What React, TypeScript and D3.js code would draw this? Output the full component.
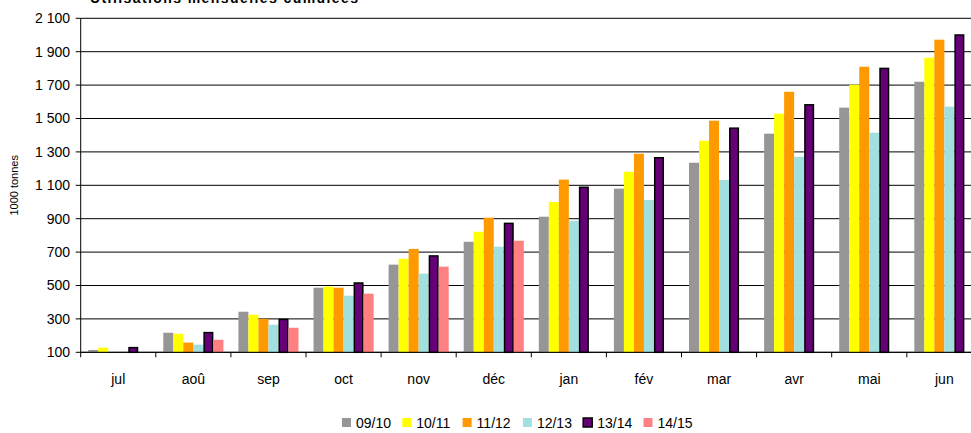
import React from "react";
import { scaleBand, scaleLinear, range } from "d3";

const months = ["jul", "aoû", "sep", "oct", "nov", "déc", "jan", "fév", "mar", "avr", "mai", "jun"];
const seasons = ["09/10", "10/11", "11/12", "12/13", "13/14", "14/15"];
const colors = ["#969696", "#ffff00", "#ff9900", "#a2e0e0", "#660077", "#ff8080"];

// cumulated monthly values, 1000 tonnes (null = no data)
const s0910 = [114, 217, 343, 487, 625, 762, 912, 1080, 1235, 1409, 1565, 1720];
const s1011 = [128, 211, 325, 493, 660, 822, 1000, 1181, 1367, 1529, 1702, 1864];
const s1112 = [null, 158, 300, 487, 719, 906, 1134, 1289, 1487, 1660, 1810, 1972];
const s1213 = [null, 146, 265, 439, 571, 732, 888, 1012, 1132, 1271, 1415, 1571];
const s1314 = [128, 218, 297, 515, 677, 872, 1088, 1265, 1442, 1582, 1800, 2000];
const s1415 = [null, 175, 247, 451, 613, 768, null, null, null, null, null, null];
const series = [s0910, s1011, s1112, s1213, s1314, s1415];

const yTicks = range(100, 2101, 200);

const W = 971;
const H = 433;
const left = 80.7;
const band = 75.1;
const top = 18.3;
const bottom = 352.3;
const font = "'Liberation Sans', Arial, sans-serif";

const fmt = (v: number) => (v >= 1000 ? `${Math.floor(v / 1000)} ${String(v % 1000).padStart(3, "0")}` : `${v}`);

export default function App() {
  const x = scaleBand<string>().domain(months).range([left, left + band * months.length]).padding(0);
  const xs = scaleBand<string>().domain(seasons).range([0, x.bandwidth()]).paddingInner(0).paddingOuter(0.75);
  const y = scaleLinear().domain([100, 2100]).range([bottom, top]);

  return (
    <svg width={W} height={H} style={{ position: "absolute", left: 0, top: 0, fontFamily: font }}>
      <rect width={W} height={H} fill="#fff" />
      <text x={90} y={3} fontSize={14} fontWeight="bold" textLength={268}>
        Utilisations mensuelles cumulées
      </text>

      {/* grid */}
      {yTicks.map((t) => (
        <g key={t}>
          <line x1={left} x2={W} y1={y(t)} y2={y(t)} stroke="#000" strokeWidth={1} />
          <line x1={left - 5} x2={left} y1={y(t)} y2={y(t)} stroke="#000" />
          <text x={70} y={y(t)} dy="0.35em" textAnchor="end" fontSize={14}>
            {fmt(t)}
          </text>
        </g>
      ))}

      {/* bars */}
      {months.map((m, mi) => (
        <g key={m}>
          {series.map((s, si) => {
            const v = s[mi];
            if (v == null) return null;
            const bx = x(m)! + xs(seasons[si])!;
            const isPurple = si === 4;
            return (
              <rect
                key={si}
                x={isPurple ? bx + 0.75 : bx}
                y={y(v)}
                width={isPurple ? xs.bandwidth() - 1.5 : xs.bandwidth()}
                height={y(100) - y(v)}
                fill={colors[si]}
                stroke={isPurple ? "#000" : "none"}
                strokeWidth={1.5}
              />
            );
          })}
        </g>
      ))}

      {/* axes */}
      <line x1={left} x2={left} y1={top} y2={bottom} stroke="#000" />
      <line x1={left} x2={W} y1={bottom} y2={bottom} stroke="#000" />
      {months.map((m) => (
        <g key={m}>
          <line x1={x(m)!} x2={x(m)!} y1={bottom} y2={bottom + 5} stroke="#000" />
          <text x={x(m)! + x.bandwidth() / 2} y={384} textAnchor="middle" fontSize={14}>
            {m}
          </text>
        </g>
      ))}

      <text transform={`translate(18,${(top + bottom) / 2}) rotate(-90)`} textAnchor="middle" fontSize={11}>
        1000 tonnes
      </text>

      {/* legend */}
      {seasons.map((s, i) => {
        const lx = 342 + i * 60.3;
        return (
          <g key={s}>
            <rect
              x={lx}
              y={418}
              width={9}
              height={9}
              fill={colors[i]}
              stroke={i === 4 ? "#000" : "none"}
              strokeWidth={1.5}
            />
            <text x={lx + 14} y={427.5} fontSize={14}>
              {s}
            </text>
          </g>
        );
      })}
    </svg>
  );
}
